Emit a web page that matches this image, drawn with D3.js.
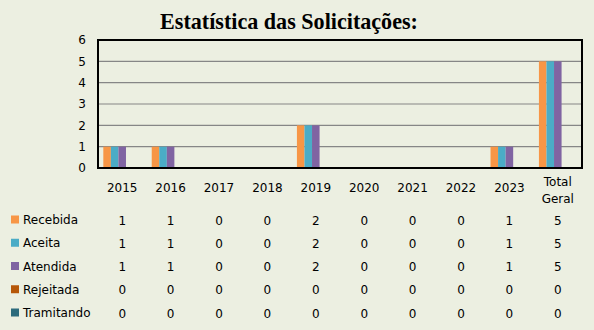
<!DOCTYPE html>
<html><head><meta charset="utf-8">
<script src="https://cdn.jsdelivr.net/npm/d3@7"></script>
<style>
html,body{margin:0;padding:0;background:#ECEFE1;}
</style></head>
<body>
<svg id="c" width="594" height="330"></svg>
<script>
const categories = ["2015","2016","2017","2018","2019","2020","2021","2022","2023","Total Geral"];
const seriesNames = ["Recebida","Aceita","Atendida","Rejeitada","Tramitando"];
const recebida   = [1,1,0,0,2,0,0,0,1,5];
const aceita     = [1,1,0,0,2,0,0,0,1,5];
const atendida   = [1,1,0,0,2,0,0,0,1,5];
const rejeitada  = [0,0,0,0,0,0,0,0,0,0];
const tramitando = [0,0,0,0,0,0,0,0,0,0];
const yTicks = [0,1,2,3,4,5,6];
const colors = ["#F79646","#4BACC6","#8064A2","#B65708","#2C6B7C"];
const title = "Estatística das Solicitações:";

const seriesValues = [recebida, aceita, atendida, rejeitada, tramitando];

const svg = d3.select("#c");
const L = 98, R = 582, T = 40, B = 168;

svg.append("rect").attr("x",0).attr("y",0).attr("width",594).attr("height",330).attr("fill","#ECEFE1");

const x = d3.scaleBand().domain(categories).range([L,R]).paddingInner(0).paddingOuter(0);
const y = d3.scaleLinear().domain([0,6]).range([B,T]);
const groupW = x.bandwidth()*0.78;
const xs = d3.scaleBand().domain(seriesNames).range([0,groupW]);

// gridlines
svg.append("g").selectAll("line").data(yTicks.filter(d=>d>0 && d<6)).join("line")
  .attr("x1",L).attr("x2",R).attr("y1",d=>y(d)).attr("y2",d=>y(d))
  .attr("stroke","#868686").attr("stroke-width",1.2);

// bars
seriesNames.forEach((s,i)=>{
  svg.append("g").selectAll("rect").data(categories.map((c,j)=>({c,v:seriesValues[i][j]}))).join("rect")
    .attr("x",d=>x(d.c)+(x.bandwidth()-groupW)/2+xs(s))
    .attr("width",xs.bandwidth())
    .attr("y",d=>y(d.v))
    .attr("height",d=>B-y(d.v))
    .attr("fill",colors[i]);
});

// plot border
svg.append("rect").attr("x",L).attr("y",T).attr("width",R-L).attr("height",B-T)
  .attr("fill","none").attr("stroke","#000").attr("stroke-width",2);

// y axis
const yAxis = d3.axisLeft(y).tickValues(yTicks).tickSize(0).tickPadding(12).tickFormat(d3.format("d"));
const ya = svg.append("g").attr("transform",`translate(${L},0)`).call(yAxis);
ya.select(".domain").remove();
ya.selectAll("text").attr("font-family","DejaVu Sans").attr("font-size",12).attr("fill","#000");

// x labels
const xl = svg.append("g");
categories.forEach(c=>{
  const parts = c.split(" ");
  const cx = x(c)+x.bandwidth()/2;
  if(parts.length===1){
    xl.append("text").attr("x",cx).attr("y",192).text(c);
  } else {
    xl.append("text").attr("x",cx).attr("y",186).text(parts[0]);
    xl.append("text").attr("x",cx).attr("y",203).text(parts[1]);
  }
});
xl.selectAll("text").attr("text-anchor","middle").attr("font-family","DejaVu Sans").attr("font-size",12).attr("fill","#000");

// data table
const rowY = d3.scalePoint().domain(seriesNames).range([220,313]);
const tbl = svg.append("g");
seriesNames.forEach((s,i)=>{
  const ry = rowY(s);
  tbl.append("rect").attr("x",11).attr("y",ry-4.5).attr("width",8).attr("height",8).attr("fill",colors[i]);
  tbl.append("text").attr("x",23).attr("y",ry+4).text(s)
    .attr("font-family","DejaVu Sans").attr("font-size",12).attr("fill","#000");
  categories.forEach((c,j)=>{
    tbl.append("text").attr("x",x(c)+x.bandwidth()/2).attr("y",ry+4.5).text(seriesValues[i][j])
      .attr("text-anchor","middle").attr("font-family","DejaVu Sans").attr("font-size",12).attr("fill","#000");
  });
});

// title
const t = svg.append("text").attr("x",289).attr("y",29).attr("text-anchor","middle")
  .attr("font-family","Liberation Serif").attr("font-weight","bold").attr("font-size",21).attr("fill","#000").text(title);
const w = t.node().getComputedTextLength();
t.attr("font-size", 21*258/w);
</script>
</body></html>
